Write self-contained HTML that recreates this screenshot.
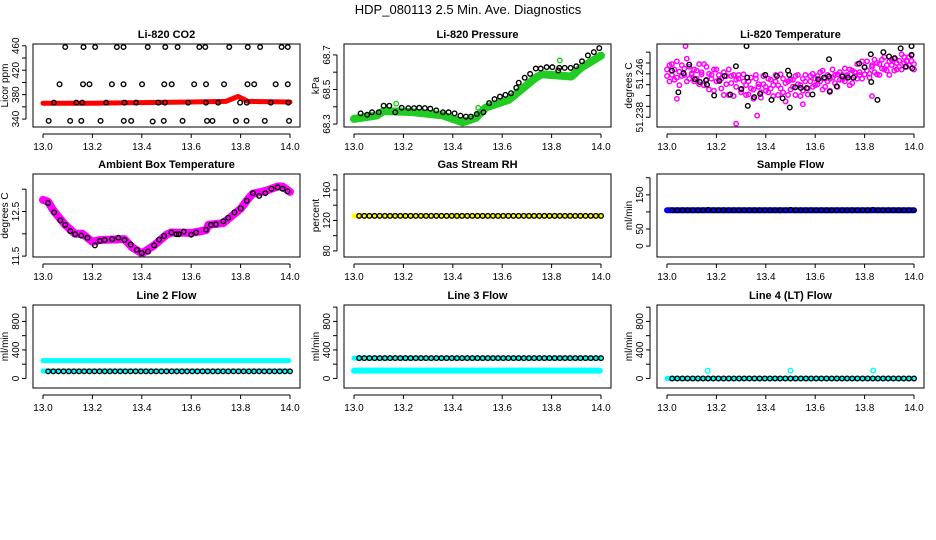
<!DOCTYPE html>
<html><head><meta charset="utf-8"><style>
body{margin:0;background:#fff}
svg{display:block;font-family:"Liberation Sans",sans-serif}
</style></head><body>
<svg id="c" width="936" height="540" viewBox="0 0 936 540">
<rect width="936" height="540" fill="#fff"/>
<text x="468" y="14" text-anchor="middle" font-size="13">HDP_080113  2.5 Min. Ave. Diagnostics</text>
</svg>
<script>
// ---- data ----
const xTicks=[13.0,13.2,13.4,13.6,13.8,14.0];
const xTickLabels=["13.0","13.2","13.4","13.6","13.8","14.0"];
// CO2
const co2BandT=[13.0,13.2,13.4,13.6,13.74,13.79,13.83,14.0];
const co2BandV=[366,366,367,368,369,377,369,368];
const co2T=[13.09,13.164,13.211,13.299,13.326,13.424,13.495,13.545,13.633,13.657,13.754,13.829,13.879,13.966,13.991,
13.067,13.162,13.188,13.279,13.326,13.401,13.491,13.521,13.612,13.66,13.733,13.828,13.855,13.942,13.991,
13.044,13.135,13.159,13.256,13.33,13.377,13.467,13.494,13.588,13.66,13.709,13.798,13.825,13.922,13.993,
13.023,13.11,13.155,13.233,13.327,13.357,13.444,13.489,13.565,13.664,13.686,13.781,13.824,13.898,13.996];
const co2V=[458,458,458,458,458,458,458,458,458,458,458,458,458,458,458,
397,397,397,397,397,397,397,397,397,397,397,397,397,397,397,
367,367,367,367,367,367,367,367,367,367,367,367,367,367,367,
337,337,337,337,337,337,336,337,337,337,337,337,337,337,337];
// Pressure
const presBandT=[13.0,13.093,13.12,13.227,13.36,13.44,13.493,13.533,13.627,13.733,13.76,13.88,13.92,13.96,14.0];
const presBandV=[68.33,68.35,68.375,68.37,68.35,68.31,68.335,68.395,68.44,68.565,68.588,68.575,68.627,68.661,68.696];
const presT=[13.027,13.053,13.073,13.1,13.12,13.143,13.167,13.193,13.22,13.243,13.264,13.287,13.309,13.333,13.36,13.383,13.407,13.431,13.453,13.473,13.497,13.524,13.547,13.569,13.591,13.613,13.636,13.657,13.667,13.691,13.713,13.736,13.756,13.78,13.803,13.827,13.831,13.853,13.877,13.9,13.923,13.947,13.971,13.993];
const presV=[68.362,68.354,68.368,68.368,68.406,68.406,68.368,68.394,68.392,68.392,68.394,68.392,68.389,68.379,68.368,68.368,68.362,68.349,68.343,68.343,68.358,68.368,68.421,68.444,68.459,68.469,68.478,68.51,68.539,68.568,68.59,68.621,68.621,68.629,68.629,68.61,68.625,68.625,68.625,68.634,68.663,68.697,68.716,68.739];
const presGreenT=[13.171,13.503,13.833];
const presGreenV=[68.418,68.394,68.668];
// Li-820 temperature (magenta two sets at t = 13.00..14.00 step .01)
const tempMagA=[51.2468,51.2476,51.2458,51.2449,51.2483,51.2464,51.2456,51.2470,51.2488,51.2451,51.2461,
51.2446,51.2466,51.2478,51.2459,51.2439,51.2473,51.2460,51.2451,51.2429,51.2468,
51.2449,51.2433,51.2463,51.2456,51.2421,51.2443,51.2458,51.2436,51.2451,51.2426,
51.2446,51.2439,51.2422,51.2453,51.2431,51.2458,51.2436,51.2416,51.2441,51.2429,
51.2451,51.2433,51.2419,51.2446,51.2439,51.2459,51.2426,51.2443,51.2421,51.2449,
51.2436,51.2456,51.2441,51.2419,51.2451,51.2458,51.2433,51.2446,51.2460,51.2439,
51.2456,51.2446,51.2466,51.2436,51.2458,51.2451,51.2468,51.2443,51.2459,51.2463,
51.2449,51.2470,51.2458,51.2439,51.2466,51.2456,51.2478,51.2463,51.2451,51.2473,
51.2483,51.2460,51.2476,51.2486,51.2459,51.2478,51.2470,51.2491,51.2466,51.2483,
51.2476,51.2488,51.2468,51.2484,51.2496,51.2480,51.2473,51.2491,51.2484,51.2478];
const tempMagB=[51.2456,51.2446,51.2478,51.2468,51.2453,51.2439,51.2476,51.2458,51.2446,51.2473,51.2459,
51.2468,51.2451,51.2441,51.2463,51.2478,51.2449,51.2431,51.2458,51.2468,51.2446,
51.2458,51.2451,51.2421,51.2441,51.2468,51.2456,51.2419,51.2449,51.2458,51.2431,
51.2459,51.2421,51.2446,51.2433,51.2414,51.2451,51.2441,51.2426,51.2456,51.2436,
51.2426,51.2449,51.2439,51.2458,51.2421,51.2433,51.2451,51.2409,51.2446,51.2431,
51.2449,51.2421,51.2458,51.2439,51.2429,51.2446,51.2422,51.2456,51.2436,51.2451,
51.2441,51.2463,51.2431,51.2451,51.2446,51.2429,51.2453,51.2458,51.2436,51.2449,
51.2458,51.2446,51.2456,51.2468,51.2443,51.2463,51.2451,51.2458,51.2483,51.2459,
51.2466,51.2453,51.2473,51.2463,51.2480,51.2458,51.2486,51.2468,51.2476,51.2458,
51.2486,51.2466,51.2480,51.2473,51.2468,51.2491,51.2483,51.2476,51.2494,51.2468];
const tempOutT=[13.075,13.28,13.365,13.04,13.55,13.83];
const tempOutV=[51.2511,51.2368,51.2383,51.2414,51.2404,51.2419];
const tempT=[13.02,13.046,13.067,13.09,13.113,13.133,13.158,13.162,13.191,13.212,13.233,13.256,13.279,13.301,13.322,13.325,13.327,13.353,13.377,13.398,13.423,13.445,13.468,13.49,13.495,13.497,13.519,13.542,13.566,13.589,13.612,13.636,13.656,13.659,13.656,13.687,13.71,13.733,13.755,13.778,13.8,13.825,13.827,13.852,13.876,13.899,13.922,13.946,13.966,13.99,13.99,13.993];
const tempV=[51.2466,51.2426,51.2461,51.2477,51.2450,51.2445,51.2448,51.2440,51.2420,51.2447,51.2456,51.2422,51.2474,51.2432,51.2511,51.2453,51.2401,51.2417,51.2423,51.2458,51.2412,51.2456,51.2415,51.2466,51.2458,51.2398,51.2435,51.2434,51.2434,51.2422,51.2450,51.2453,51.2455,51.2427,51.2487,51.2437,51.2455,51.2453,51.2453,51.2479,51.2472,51.2496,51.2445,51.2412,51.2500,51.2492,51.2489,51.2507,51.2473,51.2511,51.2495,51.2470];
// Ambient box temperature
const ambT=[13.02,13.045,13.07,13.09,13.11,13.13,13.155,13.18,13.21,13.23,13.25,13.28,13.305,13.33,13.355,13.38,13.40,13.425,13.45,13.47,13.49,13.52,13.54,13.55,13.57,13.6,13.62,13.66,13.68,13.70,13.73,13.75,13.775,13.80,13.825,13.85,13.875,13.90,13.925,13.95,13.97,13.99];
const ambV=[12.69,12.48,12.30,12.20,12.06,11.99,11.96,11.91,11.74,11.84,11.86,11.88,11.91,11.86,11.76,11.64,11.57,11.60,11.74,11.87,11.95,12.03,11.99,11.99,12.05,11.98,12.03,12.09,12.20,12.21,12.28,12.36,12.48,12.57,12.74,12.91,12.85,12.91,13.01,13.04,13.01,12.95];
const ambBandT=[13.0,13.02,13.045,13.09,13.13,13.16,13.2,13.23,13.33,13.36,13.40,13.45,13.5,13.52,13.6,13.66,13.67,13.73,13.8,13.83,13.85,13.9,13.95,13.97,14.0];
const ambBandV=[12.76,12.72,12.50,12.20,12.00,12.00,11.82,11.86,11.88,11.70,11.56,11.74,11.98,12.03,12.02,12.08,12.20,12.24,12.56,12.78,12.90,12.96,13.06,13.06,12.94];
// flat series (t = 13.0 + (i+1)/48)
const rhV=[126,126,126,126,126,126,126,126,126,126,126,126,126,126,126,126,126,126,126,126,126,126,126,126,126,126,126,126,126,126,126,126,126,126,126,126,126,126,126,126,126,126,126,126,126,126,126,126];
const rhBandV=[126,126];
const sampleV=[105,105,105,105,105,105,105,106,105,105,105,105,105,105,105,105,105,105,105,105,105,105,105,106,105,105,105,105,105,105,105,105,105,105,105,105,105,105,105,106,105,105,105,105,105,105,105,105];
const sampleBandV=[105,105];
const line2V=[100,100,100,100,100,100,100,100,100,100,100,100,100,100,100,100,100,100,100,100,100,100,100,100,100,100,100,100,100,100,100,100,100,100,100,100,100,100,100,100,100,100,100,100,100,100,100,100];
const line2CyanHiV=[250,250];
const line2CyanLoV=[105,105];
const line3V=[285,285,285,285,285,285,285,285,285,285,285,285,285,285,285,285,285,285,285,285,285,285,285,285,285,285,285,285,285,285,285,285,285,285,285,285,285,285,285,285,285,285,285,285,285,285,285,285];
const line3CyanHiV=[285,285];
const line3CyanLoV=[110,110];
const line4V=[0,0,0,0,0,0,0,0,0,0,0,0,0,0,0,0,0,0,0,0,0,0,0,0,0,0,0,0,0,0,0,0,0,0,0,0,0,0,0,0,0,0,0,0,0,0,0,0];
const line4CyanV=[0,0];
const line4SpikeT=[13.165,13.5,13.835];
const line4SpikeV=[110,110,110];

// ---- drawing ----
const NS="http://www.w3.org/2000/svg";
const svg=document.getElementById('c');
const colL=[33,344,657], rowT=[44,174,305], W=267, H=83;
function mk(tag,attrs,parent){const e=document.createElementNS(NS,tag);for(const k in attrs)e.setAttribute(k,attrs[k]);(parent||svg).appendChild(e);return e;}
const flatT=[];for(let i=0;i<48;i++)flatT.push(13+(i+1)/48);

function panel(key,col,row,title,ylab,ylim,yt,ytl){
  const L=colL[col],T=rowT[row];
  const g=mk('g',{});
  
  
  const x=t=>L+10+(t-13)*(W-20);
  const y=v=>T+H-(v-ylim[0])/(ylim[1]-ylim[0])*H;
  const tt=mk('text',{x:L+W/2,y:T-6,'text-anchor':'middle','font-size':11,'font-weight':'bold'},g);
  tt.textContent=title;
  
  
  const ax=mk('g',{stroke:'#000','stroke-width':1},g);
  
  
  mk('line',{x1:x(13),x2:x(14),y1:T+H+7,y2:T+H+7},ax);
  xTicks.forEach((t,i)=>{
    mk('line',{x1:x(t),x2:x(t),y1:T+H+7,y2:T+H+11},ax);
    const lb=mk('text',{x:x(t),y:T+H+23,'text-anchor':'middle','font-size':10,stroke:'none'},ax);
    lb.textContent=xTickLabels[i];
    
    
  });
  const ay=mk('g',{stroke:'#000','stroke-width':1},g);
  
  
  mk('line',{x1:L-7,x2:L-7,y1:y(yt[0]),y2:y(yt[yt.length-1])},ay);
  yt.forEach((v,i)=>{
    mk('line',{x1:L-11,x2:L-7,y1:y(v),y2:y(v)},ay);
    if(ytl[i]){const lb=mk('text',{x:0,y:0,transform:`translate(${L-14},${y(v)}) rotate(-90)`,'text-anchor':'middle','font-size':10,stroke:'none'},ay);
    lb.textContent=ytl[i];
    
    }
  });
  const yl=mk('text',{transform:`translate(${L-25},${T+H/2}) rotate(-90)`,'text-anchor':'middle','font-size':10},g);
  yl.textContent=ylab;
  
  
  const cp='cp'+key;
  const cl=mk('clipPath',{id:cp},g);mk('rect',{x:L,y:T,width:W,height:H},cl);
  const plot=mk('g',{'clip-path':`url(#${cp})`},g);
  
  
  const box=mk('rect',{x:L,y:T,width:W,height:H,fill:'none',stroke:'#000','stroke-width':1},g);
  
  
  return {x,y,plot};
}
function band(p,ts,vs,color,w,name){
  const pts=ts.map((t,i)=>p.x(t)+','+p.y(vs[i])).join(' ');
  const e=mk('polyline',{points:pts,fill:'none',stroke:color,'stroke-width':w,'stroke-linejoin':'round','stroke-linecap':'round'},p.plot);
  
  
}
function pts(p,ts,vs,color,name,r,sw){
  const g=mk('g',{fill:'none',stroke:color,'stroke-width':sw||1.4},p.plot);
  
  
  ts.forEach((t,i)=>{const c=mk('circle',{cx:p.x(t),cy:p.y(vs[i]),r:r||2.3},g);
    
    });
}
const magT=[];for(let i=0;i<=100;i++)magT.push(13+i/100);

// 1 CO2
let p=panel('co2',0,0,'Li-820 CO2','Licor ppm',[327,463],[340,360,380,400,420,440,460],['340','','380','','420','','460']);
band(p,co2BandT,co2BandV,'#ff0000',5,'co2-red-band');
pts(p,co2T,co2V,'#000','co2-black-points');
// 2 Pressure
p=panel('pressure',1,0,'Li-820 Pressure','kPa',[68.283,68.763],[68.3,68.4,68.5,68.6,68.7],['68.3','','68.5','','68.7']);
band(p,presBandT,presBandV,'#22cc22',8,'pressure-green-band');
pts(p,presGreenT,presGreenV,'#22cc22','pressure-green-points');
pts(p,presT,presV,'#000','pressure-black-points');
// 3 temperature
p=panel('li820temp',2,0,'Li-820 Temperature','degrees C',[51.2362,51.2515],[51.238,51.240,51.242,51.244,51.246,51.248,51.250],['51.238','','','','51.246','','']);
pts(p,magT,tempMagA,'#ff00ff','temp-magenta-points-a',2.2,1.5);
pts(p,magT,tempMagB,'#ff00ff','temp-magenta-points-b',2.2,1.5);
pts(p,tempOutT,tempOutV,'#ff00ff','temp-magenta-outliers',2.2,1.5);
pts(p,tempT,tempV,'#000','temp-black-points');
// 4 Ambient
p=panel('ambient',0,1,'Ambient Box Temperature','degrees C',[11.48,13.34],[11.5,12,12.5,13],['11.5','','12.5','']);
band(p,ambBandT,ambBandV,'#ff00ff',8,'ambient-magenta-band');
pts(p,ambT,ambV,'#000','ambient-black-points');
// 5 RH
p=panel('rh',1,1,'Gas Stream RH','percent',[72,181],[80,100,120,140,160,180],['80','','120','','160','']);
band(p,[13.0,13.995],rhBandV,'#ffff00',5,'rh-yellow-band');
pts(p,flatT,rhV,'#000','rh-black-points');
// 6 Sample flow
p=panel('sample',2,1,'Sample Flow','ml/min',[-32,211],[0,50,100,150,200],['0','50','','150','']);
band(p,[13.0,13.995],sampleBandV,'#0000ff',6,'sample-blue-band');
pts(p,flatT,sampleV,'#000','sample-black-points');
// 7 Line2
const lt=[0,200,400,600,800,1000], ltl=['0','','400','','800',''];
p=panel('line2',0,2,'Line 2 Flow','ml/min',[-134,1030],lt,ltl);
band(p,[13.0,13.995],line2CyanHiV,'#00ffff',5,'line2-cyan-upper-band');
band(p,[13.0,13.995],line2CyanLoV,'#00ffff',5,'line2-cyan-lower-band');
pts(p,flatT,line2V,'#000','line2-black-points');
// 8 Line3
p=panel('line3',1,2,'Line 3 Flow','ml/min',[-134,1030],lt,ltl);
band(p,[13.0,13.995],line3CyanHiV,'#00ffff',5,'line3-cyan-upper-band');
band(p,[13.0,13.995],line3CyanLoV,'#00ffff',6,'line3-cyan-lower-band');
pts(p,flatT,line3V,'#000','line3-black-points');
// 9 Line4
p=panel('line4',2,2,'Line 4 (LT) Flow','ml/min',[-134,1030],lt,ltl);
band(p,[13.0,13.995],line4CyanV,'#00ffff',5,'line4-cyan-band');
pts(p,line4SpikeT,line4SpikeV,'#00ffff','line4-cyan-spikes');
pts(p,flatT,line4V,'#000','line4-black-points');
</script>
</body></html>
